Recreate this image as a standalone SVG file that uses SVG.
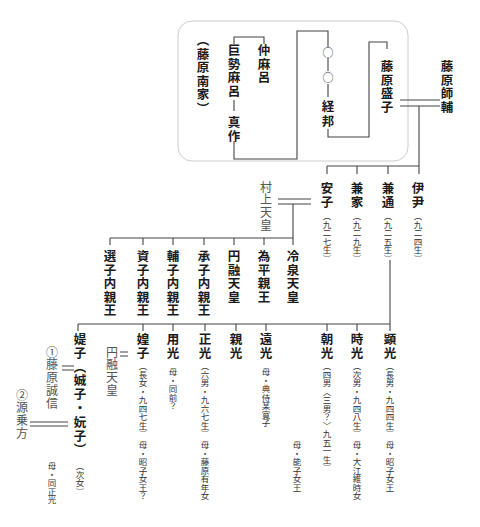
<svg xmlns="http://www.w3.org/2000/svg" width="480" height="527" viewBox="0 0 480 527">
<style>
text{writing-mode:vertical-rl;font-family:"Noto Sans CJK JP","Noto Sans CJK SC",sans-serif}
.n{font-size:12.5px;font-weight:700;fill:#1a1a1a;letter-spacing:1px}
.g{font-size:12px;font-weight:400;fill:#555;letter-spacing:0.8px}
.s{font-size:8.5px;fill:#333}
.o{font-size:11px;fill:#333}
#conn path{fill:none;stroke:#444;stroke-width:1.1}
</style>
<rect x="178" y="21" width="230" height="140" rx="14" fill="none" stroke="#ccc" stroke-width="1"/>
<g id="conn">
<path d="M264,44V37H234V44"/>
<path d="M234,100V111"/>
<path d="M234,141V159H297V31H328V47"/>
<path d="M328,58V71M328,84V97"/>
<path d="M328,129V137H369V42H387V49"/>
<path d="M400,100H440M400,106H440M419,106V174M327,166H419M327,166V174M357,166V174M388,166V174"/>
<path d="M278,199H311M278,204H311M293,204V245M110,238H293M110,238V245M143,238V245M173,238V245M204,238V245M234,238V245M264,238V245"/>
<path d="M390,260V331M78,324H390M78,324V331M143,324V331M173,324V331M205,324V331M236,324V331M266,324V331M327,324V331M357,324V331"/>
<path d="M120,352H128M120,356H128"/>
<path d="M62,366H74M62,370H74"/>
<path d="M30,422H68M30,426H68"/>
</g>
<g id="nanke"><text class="n" x="203" y="34">（藤原南家）</text></g>
<g id="nakamaro"><text class="n" x="264" y="44">仲麻呂</text></g>
<g id="kosemaro"><text class="n" x="234" y="44">巨勢麻呂</text></g>
<g id="masanari"><text class="n" x="234" y="116">真作</text></g>
<g id="unknown1"><text class="o" x="328" y="47">○</text></g>
<g id="unknown2"><text class="o" x="328" y="72">○</text></g>
<g id="tsunekuni"><text class="n" x="328" y="100" style="letter-spacing:2.5px">経邦</text></g>
<g id="moriko"><text class="n" x="387" y="60">藤原盛子</text></g>
<g id="morosuke"><text class="n" x="447" y="60">藤原師輔</text></g>
<g id="yasuko"><text class="n" x="327" y="182">安子</text><text class="s" x="327" y="212">（九二七生）</text></g>
<g id="kaneie"><text class="n" x="357" y="182">兼家</text><text class="s" x="357" y="212">（九二九生）</text></g>
<g id="kanemichi"><text class="n" x="388" y="182">兼通</text><text class="s" x="388" y="212">（九二五生）</text></g>
<g id="koretada"><text class="n" x="418" y="182">伊尹</text><text class="s" x="418" y="212">（九二四生）</text></g>
<g id="murakami"><text class="g" x="266" y="181">村上天皇</text></g>
<g id="ensi"><text class="n" x="110" y="250">選子内親王</text></g>
<g id="sukeko"><text class="n" x="143" y="250">資子内親王</text></g>
<g id="hoshi"><text class="n" x="173" y="250">輔子内親王</text></g>
<g id="shoshi"><text class="n" x="204" y="250">承子内親王</text></g>
<g id="enyu"><text class="n" x="234" y="250">円融天皇</text></g>
<g id="tamehira"><text class="n" x="264" y="250">為平親王</text></g>
<g id="reizei"><text class="n" x="293" y="250">冷泉天皇</text></g>
<g id="akimitsu"><text class="n" x="390" y="333">顕光</text><text class="s" x="390" y="362">（長男・九四四生）</text><text class="s" x="390" y="441">母・昭子女王</text></g>
<g id="tokimitsu"><text class="n" x="357" y="333">時光</text><text class="s" x="357" y="362">（次男・九四八生）</text><text class="s" x="357" y="441">母・大江維時女</text></g>
<g id="asamitsu"><text class="n" x="327" y="333">朝光</text><text class="s" x="327" y="362">（四男〈三男？〉九五一生）</text></g>
<g id="note-yoshiko"><text class="s" x="297" y="441">母・能子女王</text></g>
<g id="tomitsu"><text class="n" x="266" y="333">遠光</text><text class="s" x="266" y="368">母・典侍某寛子</text></g>
<g id="chikamitsu"><text class="n" x="236" y="333">親光</text></g>
<g id="masamitsu"><text class="n" x="205" y="333">正光</text><text class="s" x="205" y="362">（六男・九六七生）</text><text class="s" x="205" y="441">母・藤原有年女</text></g>
<g id="mochimitsu"><text class="n" x="173" y="333">用光</text><text class="s" x="173" y="368">母・同前？</text></g>
<g id="koshi"><text class="n" x="143" y="333">媓子</text><text class="s" x="143" y="362">（長女・九四七生）</text><text class="s" x="143" y="441">母・昭子女王？</text></g>
<g id="enyu2"><text class="g" x="112" y="346">円融天皇</text></g>
<g id="daughter2"><text class="n" x="80" y="333" style="letter-spacing:1.3px">媞子（娍子・妧子）</text><text class="s" x="80" y="462">（次女）</text><text class="s" x="52" y="462">母・同正光</text></g>
<g id="sanenobu"><text class="g" x="52" y="346">①藤原誠信</text></g>
<g id="norikata"><text class="g" x="22" y="389">②源乗方</text></g>
</svg>
